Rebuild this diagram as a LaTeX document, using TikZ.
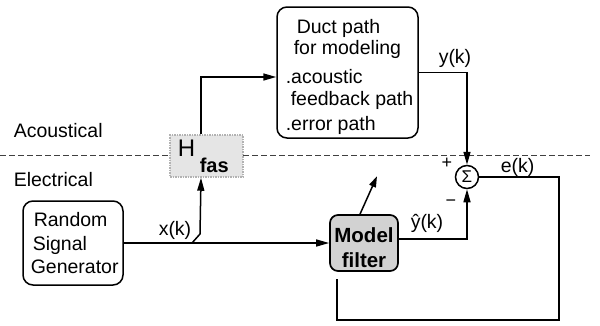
\documentclass[tikz,border=0pt]{standalone}
\usepackage{fontspec}
\setmainfont{Liberation Sans}
\usetikzlibrary{arrows.meta}
\begin{document}
\begin{tikzpicture}[x=1pt,y=-1pt, line width=1.5pt,
  >={Triangle[length=13pt,width=7pt]},
  font=\fontsize{19.5}{22}\selectfont,
  rbox/.style={draw, rounded corners=10pt, inner sep=0pt, fill=white},
  shbox/.style={draw=gray!60, densely dotted, fill=gray!20, inner sep=0pt},
  mbox/.style={draw, rounded corners=8pt, inner sep=0pt, fill=gray!35, line width=1.7pt},
  lbl/.style={anchor=base west, inner sep=0pt},
  clbl/.style={anchor=base, inner sep=0pt},
  sgn/.style={inner sep=0pt, font=\fontsize{18}{18}\selectfont}]
\useasboundingbox (0,0) rectangle (600,325);
% dashed boundary
\draw[line width=1pt, gray!50!black, dash pattern=on 6pt off 3pt] (0,155) -- (590,155);
% blocks
\node[rbox, minimum width=141pt, minimum height=131pt] (duct) at (347.5,72.5) {};
\node[shbox, minimum width=73pt, minimum height=42pt] (hfas) at (206.5,156) {};
\node[rbox, minimum width=100pt, minimum height=84pt] (rsg) at (73,243) {};
\node[mbox, minimum width=68pt, minimum height=56pt] (model) at (364,243) {};
\node[draw, circle, minimum size=23pt, inner sep=0pt, fill=white,
      font=\fontsize{17}{17}\selectfont] (sum) at (467,177) {Σ};
\coordinate (j) at (192,243);
\coordinate (c1) at (559,320);
% texts in blocks
\node[lbl] (d1) at (296,33) {Duct path};
\node[lbl] (d2) at (293,54) {for modeling};
\node[lbl] (d3) at (285,83) {.acoustic};
\node[lbl] (d4) at (290,105) {feedback path};
\node[lbl] (d5) at (285,130) {.error path};
\node[lbl] (r1) at (33,226) {Random};
\node[lbl] (r2) at (32,250) {Signal};
\node[lbl] (r3) at (30,273) {Generator};
\node[lbl, font=\fontsize{24}{24}\selectfont] (h1) at (177,156) {H};
\node[lbl, font=\fontsize{20}{20}\selectfont\bfseries] (h2) at (199,172) {fas};
\node[clbl, font=\fontsize{20.5}{22}\selectfont\bfseries] (m1) at (364,242) {Model};
\node[clbl, font=\fontsize{20.5}{22}\selectfont\bfseries] (m2) at (364,267) {filter};
% side labels
\node[lbl] (ac) at (13,137) {Acoustical};
\node[lbl] (el) at (13,186) {Electrical};
% signal labels
\node[lbl] (xk) at (158,235) {x(k)};
\node[lbl] (yk) at (438,63) {y(k)};
\node[lbl] (yh) at (410,228) {ŷ(k)};
\node[lbl] (ek) at (500,172) {e(k)};
\node[sgn] (plus) at (447,163) {+};
\node[sgn] (minus) at (451,203) {−};
% connectors
\draw (rsg.east) -- (j);
\draw[->] (j) -- (model.west);
\draw[->] (j) -- ++(8,-9) -- ([xshift=-5.5pt]hfas.south);
\draw[->] ([xshift=-5.5pt]hfas.north) |- ([yshift=-4.5pt]duct.west);
\draw[->] (duct.east) -| (sum.north);
\draw[->] ([yshift=4pt]model.east) -| (sum.south);
\draw (sum.east) -| (c1) -| ([xshift=-27pt,yshift=-7pt]model.south);
\draw[->, >={Triangle[length=11pt,width=7pt]}] ([xshift=-4pt]model.north) -- ++(17,-38);
\end{tikzpicture}
\end{document}
